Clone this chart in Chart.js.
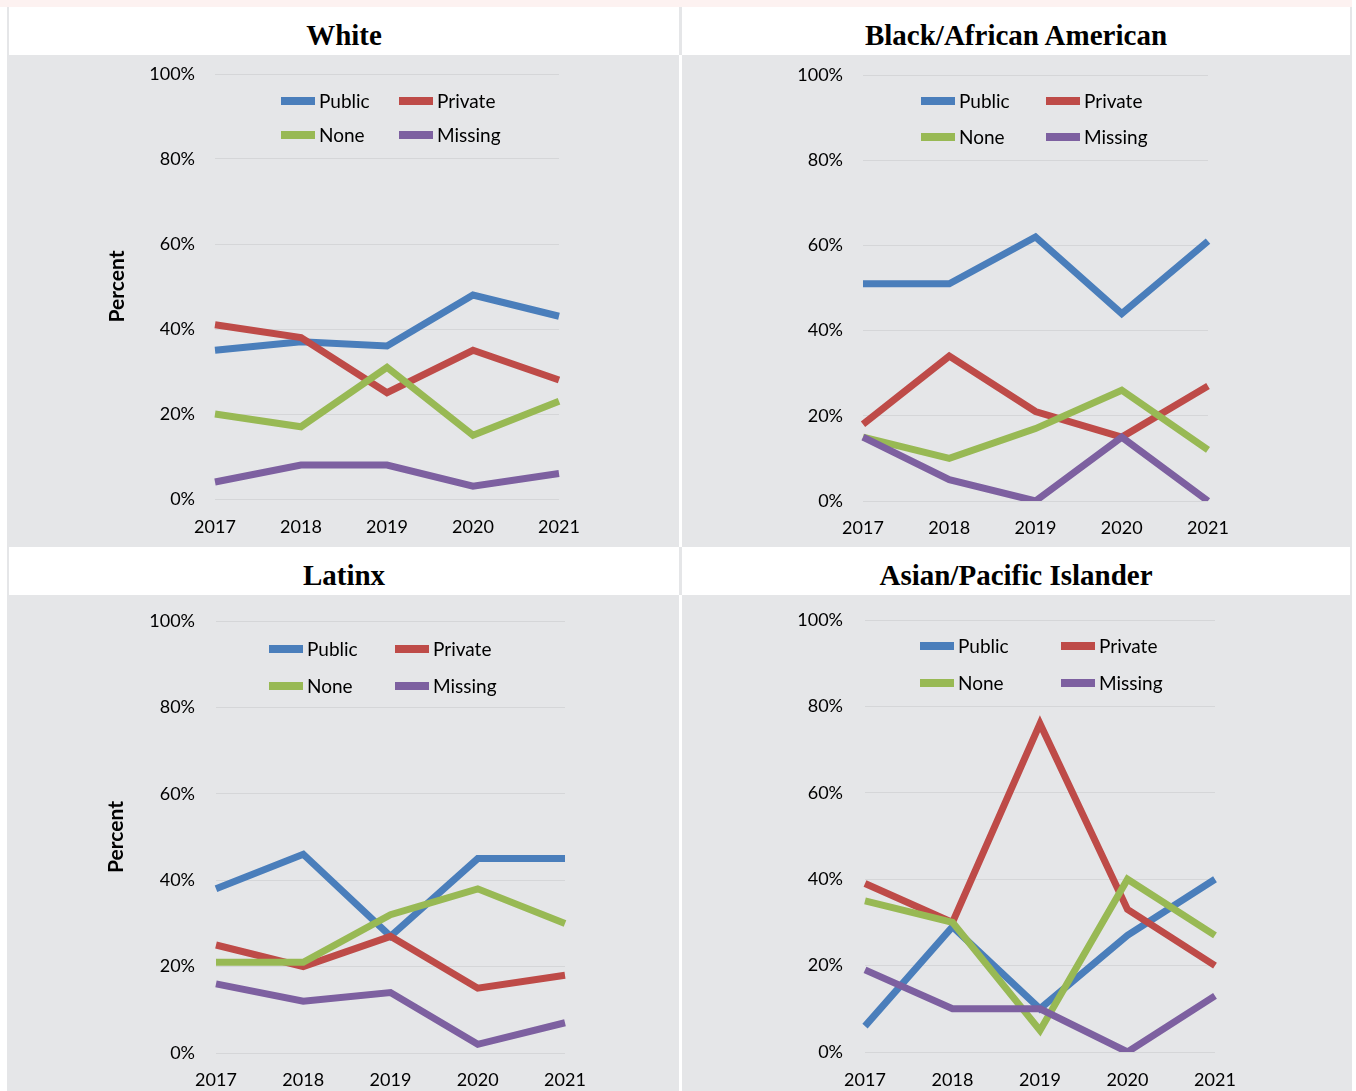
<!DOCTYPE html>
<html><head><meta charset="utf-8">
<script src="https://cdn.jsdelivr.net/npm/chart.js@4.4.1/dist/chart.umd.min.js"></script>
<style>
html,body{margin:0;padding:0;background:#fff;width:1356px;height:1091px;overflow:hidden;position:relative}
.strip{position:absolute;left:0;top:0;width:1352px;height:7px;background:#fdf2f1}
.bg{position:absolute;left:7px;top:7px;width:1345px;height:1084px;background:#e5e6e8}
.title{position:absolute;background:#fff;font-family:'Liberation Serif',serif;font-weight:bold;font-size:29px;color:#000;text-align:center;height:48px;line-height:56px}
.gap{position:absolute;background:#fff;left:679px;width:3px}
.panel{position:absolute}
.panel canvas{display:block}
.lg{position:absolute;font-family:Lato,sans-serif;font-size:19px;color:#000;white-space:nowrap}
.sw{position:absolute;width:34px;height:8px}
</style></head>
<body>
<div class="strip"></div>
<div class="bg"></div>
<div class="gap" style="top:55px;height:492px"></div>
<div class="gap" style="top:595px;height:496px"></div>
<div class="title" style="left:9px;top:7px;width:670px">White</div>
<div class="title" style="left:682px;top:7px;width:668px">Black/African American</div>
<div class="title" style="left:9px;top:547px;width:670px">Latinx</div>
<div class="title" style="left:682px;top:547px;width:668px">Asian/Pacific Islander</div>
<div id="root"></div>
<script>
const years = ['2017', '2018', '2019', '2020', '2021'];
const seriesNames = ['Public', 'Private', 'None', 'Missing'];
const seriesColors = ['#4a7ebb', '#be4b48', '#98b954', '#7d60a0'];
const yTickValues = [0, 20, 40, 60, 80, 100];

const whitePublic = [35, 37, 36, 48, 43];
const whitePrivate = [41, 38, 25, 35, 28];
const whiteNone = [20, 17, 31, 15, 23];
const whiteMissing = [4, 8, 8, 3, 6];

const blackPublic = [51, 51, 62, 44, 61];
const blackPrivate = [18, 34, 21, 15, 27];
const blackNone = [15, 10, 17, 26, 12];
const blackMissing = [15, 5, 0, 15, 0];

const latinxPublic = [38, 46, 27, 45, 45];
const latinxPrivate = [25, 20, 27, 15, 18];
const latinxNone = [21, 21, 32, 38, 30];
const latinxMissing = [16, 12, 14, 2, 7];

const asianPublic = [6, 29, 10, 27, 40];
const asianPrivate = [39, 30, 76, 33, 20];
const asianNone = [35, 30, 5, 40, 27];
const asianMissing = [19, 10, 10, 0, 13];

const panels = [
  {series:[whitePublic, whitePrivate, whiteNone, whiteMissing], box:[7,55,672,492], area:{left:208, top:19, right:552, bottom:444}, yPad:20, xPad:17, yTitle:true, titlePad:98,
   legend:{x1:274, x2:392, y1:46, y2:80}},
  {series:[blackPublic, blackPrivate, blackNone, blackMissing], box:[682,55,670,492], area:{left:181, top:20, right:526, bottom:446}, yPad:20, xPad:16, yTitle:false,
   legend:{x1:239, x2:364, y1:46, y2:82}},
  {series:[latinxPublic, latinxPrivate, latinxNone, latinxMissing], box:[7,595,672,496], area:{left:209, top:26, right:558, bottom:458}, yPad:21, xPad:16, yTitle:true, titlePad:97,
   legend:{x1:262, x2:388, y1:54, y2:91}},
  {series:[asianPublic, asianPrivate, asianNone, asianMissing], box:[682,595,670,496], area:{left:183, top:25, right:533, bottom:457}, yPad:22, xPad:17, yTitle:false,
   legend:{x1:238, x2:379, y1:51, y2:88}}
];

const root = document.getElementById('root');
panels.forEach(p => {
  const [L, T, W, H] = p.box;
  const div = document.createElement('div');
  div.className = 'panel';
  div.style.cssText = `left:${L}px;top:${T}px;width:${W}px;height:${H}px`;
  const cv = document.createElement('canvas');
  cv.width = W; cv.height = H;
  cv.style.width = W + 'px'; cv.style.height = H + 'px';
  div.appendChild(cv);
  const pos = [[p.legend.x1, p.legend.y1], [p.legend.x2, p.legend.y1], [p.legend.x1, p.legend.y2], [p.legend.x2, p.legend.y2]];
  seriesNames.forEach((n, i) => {
    const sw = document.createElement('div');
    sw.className = 'sw';
    sw.style.cssText = `left:${pos[i][0]}px;top:${pos[i][1]-4}px;background:${seriesColors[i]}`;
    div.appendChild(sw);
    const tx = document.createElement('div');
    tx.className = 'lg';
    tx.style.cssText = `left:${pos[i][0]+38}px;top:${pos[i][1]-11}px;line-height:22px`;
    tx.textContent = n;
    div.appendChild(tx);
  });
  root.appendChild(div);

  const st = {padTop: p.area.top, padRight: W - p.area.right, yWidth: p.area.left, xHeight: H - p.area.bottom};

  const chart = new Chart(cv, {
    type: 'line',
    data: {
      labels: years,
      datasets: seriesNames.map((n, i) => ({
        label: n,
        data: p.series[i],
        borderColor: seriesColors[i],
        backgroundColor: seriesColors[i],
        borderWidth: 7,
        pointRadius: 0,
        pointHoverRadius: 0,
        tension: 0,
        fill: false,
        order: 3 - i
      }))
    },
    options: {
      responsive: false,
      animation: false,
      devicePixelRatio: 1,
      layout: {padding: {left: 0, top: st.padTop, right: st.padRight, bottom: 0}},
      plugins: {legend: {display: false}, tooltip: {enabled: false}, title: {display: false}},
      scales: {
        x: {
          type: 'category',
          offset: false,
          grid: {display: false, drawTicks: false},
          border: {display: false},
          ticks: {color: '#000', font: {family: 'Lato', size: 18}, padding: p.xPad, maxRotation: 0, autoSkip: false},
          afterFit: s => { s.height = st.xHeight; s.paddingLeft = 0; s.paddingRight = 0; }
        },
        y: {
          min: 0, max: 100,
          afterBuildTicks: s => { s.ticks = yTickValues.map(v => ({value: v})); },
          grid: {color: '#d5d6d8', lineWidth: 1, drawTicks: false},
          border: {display: false},
          ticks: {color: '#000', font: {family: 'Lato', size: 18}, padding: p.yPad, callback: v => v + '%'},
          title: {display: p.yTitle, text: 'Percent', color: '#000', font: {family: 'Lato', size: 21, weight: 'bold'}, padding: {top: p.titlePad || 0, bottom: 0}},
          afterFit: s => { s.width = st.yWidth; s.paddingTop = 0; s.paddingBottom = 0; }
        }
      }
    }
  });

  for (let k = 0; k < 5; k++) {
    const ca = chart.chartArea;
    const dT = p.area.top - ca.top, dB = p.area.bottom - ca.bottom, dL = p.area.left - ca.left, dR = p.area.right - ca.right;
    if (Math.abs(dT) < 0.5 && Math.abs(dB) < 0.5 && Math.abs(dL) < 0.5 && Math.abs(dR) < 0.5) break;
    st.padTop += dT; st.xHeight -= dB; st.yWidth += dL; st.padRight -= dR;
    chart.options.layout.padding = {left: 0, top: st.padTop, right: st.padRight, bottom: 0};
    chart.update();
  }
});
</script>
</body></html>
